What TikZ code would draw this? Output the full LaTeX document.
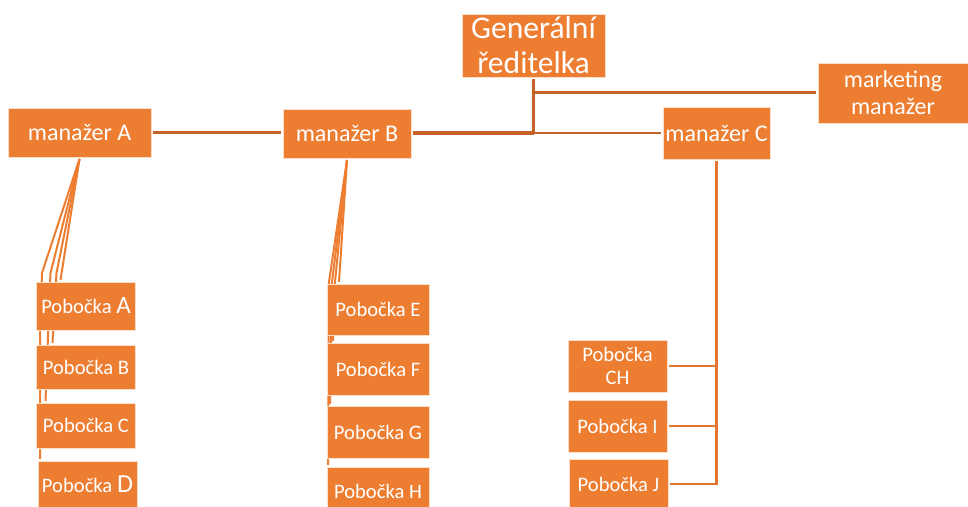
\documentclass[tikz,border=0pt]{standalone}
\usepackage{fontspec}
\setmainfont{Carlito}
\usetikzlibrary{positioning,calc,backgrounds}
\definecolor{boxorange}{RGB}{237,125,49}
\definecolor{linebrown}{RGB}{196,98,40}
\definecolor{lineorange}{RGB}{226,118,48}

\begin{document}
\begin{tikzpicture}[x=0.5pt,y=-0.5pt,
                unit/.style={rectangle, fill=boxorange, draw=white!75!boxorange, line width=0.4pt, text=white, align=center, inner sep=0pt, outer sep=1pt, font=\fontsize{12}{13.5}\selectfont},
                pob/.style={unit, minimum width=49.5pt, minimum height=23pt, font=\fontsize{10.3}{11.7}\selectfont},
                pobtall/.style={pob, minimum width=51pt, minimum height=26pt},
                trunk/.style={linebrown, line width=1.5pt},
                fan/.style={boxorange, line width=1pt},
                branch/.style={lineorange, line width=1.25pt}
            ]
                \useasboundingbox (0,0) rectangle (968,507);

                % top level
                \node[unit, minimum width=71.5pt, minimum height=31.5pt, font=\fontsize{15.8}{17.5}\selectfont] (gr) at (533.5,45.5) {Generální\\ředitelka};
                \node[unit, minimum width=75pt, minimum height=30pt] (mm) at (893,93) {marketing\\manažer};

                % managers
                \node[unit, minimum width=71.5pt, minimum height=24.5pt] (mA) at (79.5,132.5) {manažer A};
                \node[unit, minimum width=64pt, minimum height=24.5pt] (mB) at (347,133.5) {manažer B};
                \node[unit, minimum width=53.5pt, minimum height=26pt] (mC) at (716.5,133) {manažer C};

                % branches of A
                \node[pob, minimum height=24pt] (pA) at (86,306) {Pobočka~{\fontsize{12.5}{14}\selectfont A}};
                \node[pob, minimum height=22pt, below=5.5pt of pA] (pB) {Pobočka B};
                \node[pob, minimum height=22.5pt, below=5pt of pB] (pC) {Pobočka C};
                \node[pob, minimum height=23pt, below=4.5pt of pC, xshift=0.75pt] (pD) {Pobočka~{\fontsize{13}{15}\selectfont D}};

                % branches of B
                \node[pobtall, minimum height=25.5pt] (pE) at (378,309.5) {Pobočka E};
                \node[pobtall, below=2pt of pE] (pF) {Pobočka F};
                \node[pobtall, below=3.5pt of pF] (pG) {Pobočka G};
                \node[pobtall, minimum height=24pt, below=2.5pt of pG] (pH) {Pobočka H};

                % branches of C
                \node[pob, minimum height=26pt] (pCH) at (617.5,366) {Pobočka\\CH};
                \node[pob, minimum height=26pt, below=2pt of pCH] (pI) {Pobočka I};
                \node[pob, minimum height=25pt, below=1.5pt of pI, xshift=0.5pt] (pJ) {Pobočka J};

                \begin{scope}[on background layer]
                    \draw[trunk] (gr.south) -- (gr.south |- mB.east);
                    \draw[trunk] (gr.south |- mm.west) -- (mm.west);
                    \draw[trunk, line width=2pt] (mB.east) -- (gr.south |- mB.east);
                    \draw[trunk, line width=1.25pt] (gr.south |- mC.west) -- (mC.west);
                    \draw[trunk] (mA.east) -- (mA.east -| mB.west);

                    \draw[fan] (mA.south) -- ($(pA.north west)+(26,0)$);
                    \draw[fan] (mA.south) -- ($(pB.north west)+(22,-70)$) -- ($(pB.north west)+(18,0)$);
                    \draw[fan] (mA.south) -- ($(pC.north west)+(16,-128)$) -- ($(pC.north west)+(11,0)$);
                    \draw[fan] (mA.south) -- ($(pD.north west)+(6,-186)$) -- ($(pD.north west)+(4,-121)$) -- ($(pD.north west)+(4,0)$);

                    \draw[fan] (mB.south) -- ($(pE.north west)+(14,0)$);
                    \draw[fan] (mB.south) -- ($(pF.north west)+(10,-59)$) -- ($(pF.north west)+(8,0)$);
                    \draw[fan] (mB.south) -- ($(pG.north west)+(7,-122)$) -- ($(pG.north west)+(5,0)$);
                    \draw[fan] (mB.south) -- ($(pH.north west)+(4,-183)$) -- ($(pH.north west)+(3,0)$);

                    \draw[branch] (mC.south) |- (pJ.east);
                    \draw[branch] (pCH.east) -- (pCH.east -| mC.south);
                    \draw[branch] (pI.east) -- (pI.east -| mC.south);
                \end{scope}
            \end{tikzpicture}
\end{document}
